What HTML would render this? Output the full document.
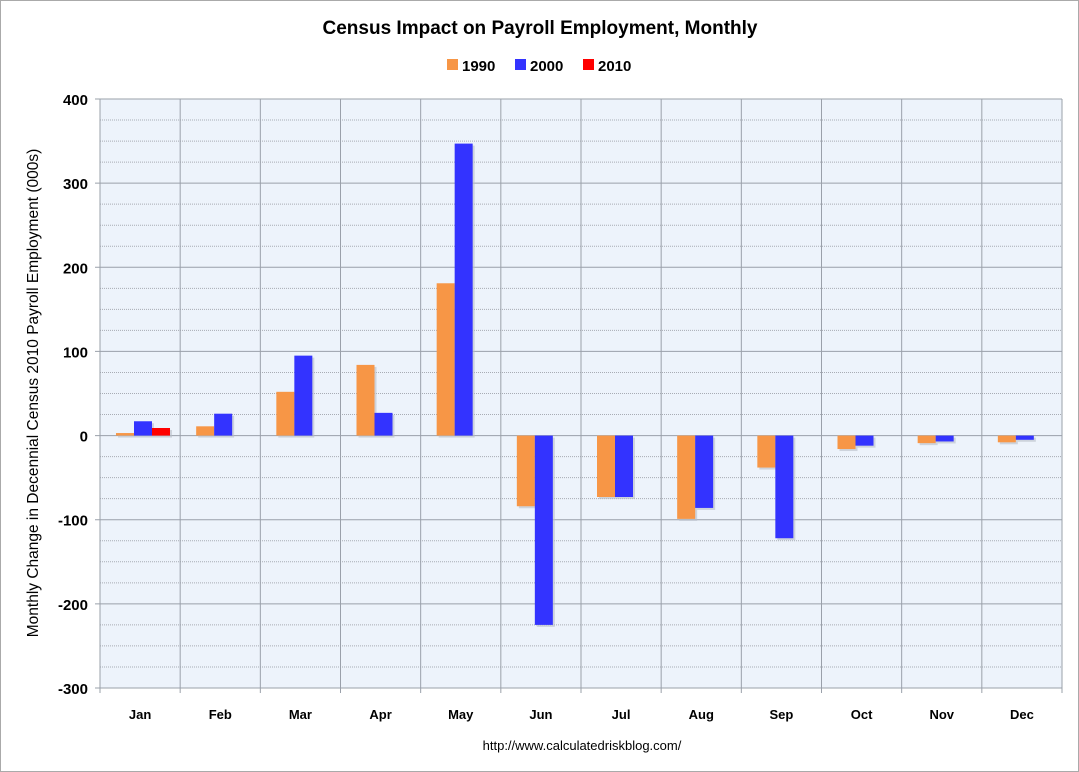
<!DOCTYPE html>
<html><head><meta charset="utf-8"><style>
body{margin:0;background:#fff;}
svg{display:block;font-family:"Liberation Sans",Arial,sans-serif;}
</style></head><body>
<svg id="chart" width="1079" height="772" viewBox="0 0 1079 772">
<rect x="0.5" y="0.5" width="1078" height="771" fill="#fff" stroke="#aaa"/>
<text x="540" y="34" text-anchor="middle" font-size="19" font-weight="bold">Census Impact on Payroll Employment, Monthly</text>
<g id="legend"></g>
<rect x="100" y="99" width="962" height="589" fill="#edf3fb"/>
<g id="grid"></g>
<g id="bars"></g>
<g id="axes"></g>
<text transform="translate(38,393) rotate(-90)" text-anchor="middle" font-size="15.5">Monthly Change in Decennial Census 2010 Payroll Employment (000s)</text>
<text x="582" y="750" text-anchor="middle" font-size="13">http://www.calculatedriskblog.com/</text>
</svg>
<script>
const categories=["Jan","Feb","Mar","Apr","May","Jun","Jul","Aug","Sep","Oct","Nov","Dec"];
const s1990=[3,11,52,84,181,-84,-73,-99,-38,-16,-9,-8];
const s2000=[17,26,95,27,347,-225,-73,-86,-122,-12,-7,-5];
const s2010=[9,null,null,null,null,null,null,null,null,null,null,null];
const seriesNames=["1990","2000","2010"];
const seriesColors=["#f79646","#3333ff","#ff0000"];
const yTicks=[400,300,200,100,0,-100,-200,-300];
const NS="http://www.w3.org/2000/svg";
const L=100,R=1062,T=99,B=688,ymin=-300,ymax=400;
const y=v=>T+(ymax-v)*(B-T)/(ymax-ymin);
const colW=(R-L)/categories.length;
const x=i=>L+i*colW;
function mk(tag,attrs,parent){const e=document.createElementNS(NS,tag);for(const k in attrs)e.setAttribute(k,attrs[k]);parent.appendChild(e);return e;}
const grid=document.getElementById('grid'),bars=document.getElementById('bars'),axes=document.getElementById('axes'),leg=document.getElementById('legend');
for(let v=ymin;v<=ymax;v+=25){
  if(v%100===0)continue;
  const g=mk('line',{x1:L,x2:R,y1:y(v),y2:y(v),stroke:'#a8acb4','stroke-dasharray':'1,1','stroke-width':1},grid);
  
  
}
yTicks.forEach(v=>{
  const g=mk('line',{x1:L-5,x2:R,y1:y(v),y2:y(v),stroke:'#9aa0aa','stroke-width':1},grid);
  
  
  const t=mk('text',{x:L-12,y:y(v)+6,'text-anchor':'end','font-size':15,'font-weight':'bold'},axes);
  t.textContent=v;
  
  
});
for(let i=0;i<=categories.length;i++){
  const g=mk('line',{x1:x(i),x2:x(i),y1:T,y2:B+5,stroke:'#9aa0aa','stroke-width':1},grid);
  
  
}
const series=[s1990,s2000,s2010];
const bw=18,off=16;
categories.forEach((c,i)=>{
  series.forEach((s,k)=>{
    const v=s[i]; if(v===null||v===undefined)return;
    const bx=x(i)+off+k*bw;
    const top=Math.min(y(v),y(0)),h=Math.abs(y(v)-y(0));
    const sh=mk('rect',{x:bx+2,y:top+2,width:bw,height:h,fill:'#b8bec8',opacity:0.6},bars);
    
    
    const r=mk('rect',{x:bx,y:top,width:bw,height:h,fill:seriesColors[k]},bars);
    
    
  });
  const t=mk('text',{x:x(i)+colW/2,y:719,'text-anchor':'middle','font-size':13,'font-weight':'bold'},axes);
  t.textContent=c;
  
  
});
const lx=[447,515,583];
seriesNames.forEach((n,k)=>{
  const r=mk('rect',{x:lx[k],y:59,width:11,height:11,fill:seriesColors[k]},leg);
  
  
  const t=mk('text',{x:lx[k]+15,y:71,'font-size':15,'font-weight':'bold'},leg);
  t.textContent=n;
  
  
});
</script>
</body></html>
